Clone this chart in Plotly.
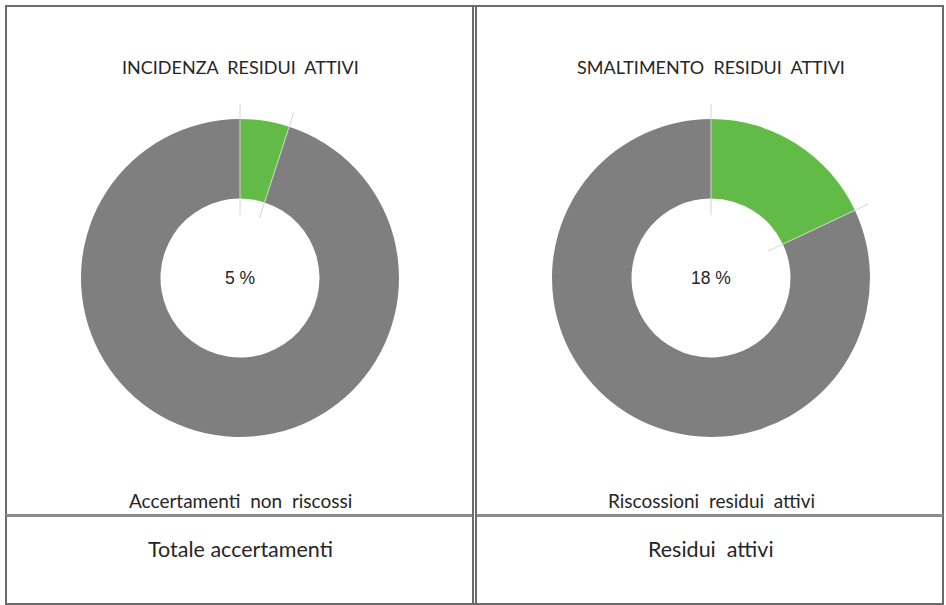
import math
import plotly.graph_objects as go

W, H = 946, 605

# ---- data ----
titles = ["INCIDENZA  RESIDUI  ATTIVI", "SMALTIMENTO  RESIDUI  ATTIVI"]
numerator_labels = ["Accertamenti  non  riscossi", "Riscossioni  residui  attivi"]
denominator_labels = ["Totale accertamenti", "Residui  attivi"]
share_pct = [5, 18]          # green share (%)
slice_names = ["Quota", "Resto"]
colors = ["#62bb46", "#7f7f7f"]

# ---- layout helpers (pixel geometry) ----
centers_px = [(240, 278), (711, 278)]
R_OUT = 159
HOLE = 0.5
LEAD_IN, LEAD_OUT = 63, 174

def px(x):
    return x / W

def py(y):
    return 1 - y / H

fig = go.Figure()
shapes = []
annotations = []
TXT = "#262626"

def label(text, x, y, size, family="Lato, Open Sans"):
    annotations.append(dict(text=text, x=px(x), y=py(y), xref="paper", yref="paper",
                            xanchor="center", yanchor="middle", showarrow=False,
                            font=dict(family=family, size=size, color=TXT)))

for i, pct in enumerate(share_pct):
    cx, cy = centers_px[i]
    fig.add_trace(go.Pie(
        values=[pct, 100 - pct],
        labels=slice_names,
        marker=dict(colors=colors, line=dict(width=0)),
        hole=HOLE,
        sort=False,
        direction="clockwise",
        rotation=0,
        textinfo="none",
        hoverinfo="label+percent",
        showlegend=False,
        domain=dict(x=[px(cx - R_OUT), px(cx + R_OUT)],
                    y=[py(cy + R_OUT), py(cy - R_OUT)]),
    ))
    # leader lines along slice boundaries
    for frac in (0, pct / 100):
        a = 2 * math.pi * frac
        sx, sy = math.sin(a), -math.cos(a)
        shapes.append(dict(type="line", xref="paper", yref="paper",
                           x0=px(cx + LEAD_IN * sx), y0=py(cy + LEAD_IN * sy),
                           x1=px(cx + LEAD_OUT * sx), y1=py(cy + LEAD_OUT * sy),
                           line=dict(color="#d4d4d4", width=1), layer="above"))
    label(f"{pct} %", cx, cy, 17.5, family="Liberation Sans, Arial")
    label(titles[i], cx, 67, 18)
    label(numerator_labels[i], cx, 500, 19)
    label(denominator_labels[i], cx, 549, 21.5)

# table borders
border = "#6b6b6b"
def hline(y, x0, x1, color=border, w=2):
    shapes.append(dict(type="line", xref="paper", yref="paper", x0=px(x0), x1=px(x1),
                       y0=py(y), y1=py(y), line=dict(color=color, width=w)))
def vline(x, y0, y1, color=border, w=2):
    shapes.append(dict(type="line", xref="paper", yref="paper", x0=px(x), x1=px(x),
                       y0=py(y0), y1=py(y1), line=dict(color=color, width=w)))

hline(6, 5, 944)
hline(604, 5, 944)
vline(6, 5, 605)
vline(943, 5, 605)
vline(473, 6, 604)
vline(476, 6, 604)
hline(515.5, 6, 472, color="#8c8c8c", w=3)
hline(515.5, 477, 943, color="#8c8c8c", w=3)

fig.update_layout(
    width=W, height=H,
    margin=dict(l=0, r=0, t=0, b=0),
    paper_bgcolor="white",
    plot_bgcolor="white",
    shapes=shapes,
    annotations=annotations,
)

fig.write_html(
    "out.html",
    config={"displayModeBar": False},
    post_script="document.body.style.margin='0';document.body.style.overflow='hidden';"
                "document.documentElement.style.overflow='hidden';",
)
